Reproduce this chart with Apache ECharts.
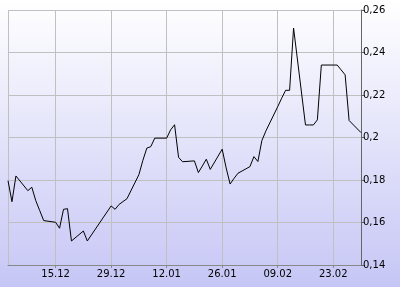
<!DOCTYPE html>
<html>
<head>
<meta charset="utf-8">
<script src="https://cdn.jsdelivr.net/npm/echarts@6/dist/echarts.min.js"></script>
<style>html,body{margin:0;padding:0;}#c{width:400px;height:287px;}</style>
</head>
<body>
<div id="c"></div>
<script>
// Trading days (dd.mm.yyyy) and closing values
const dates = [
  '03.12.2008','04.12.2008','05.12.2008','08.12.2008','09.12.2008','10.12.2008','11.12.2008','12.12.2008',
  '15.12.2008','16.12.2008','17.12.2008','18.12.2008','19.12.2008','22.12.2008','23.12.2008',
  '29.12.2008','30.12.2008','31.12.2008','02.01.2009',
  '05.01.2009','06.01.2009','07.01.2009','08.01.2009','09.01.2009',
  '12.01.2009','13.01.2009','14.01.2009','15.01.2009','16.01.2009',
  '19.01.2009','20.01.2009','21.01.2009','22.01.2009','23.01.2009',
  '26.01.2009','27.01.2009','28.01.2009','29.01.2009','30.01.2009',
  '02.02.2009','03.02.2009','04.02.2009','05.02.2009','06.02.2009',
  '09.02.2009','10.02.2009','11.02.2009','12.02.2009','13.02.2009',
  '16.02.2009','17.02.2009','18.02.2009','19.02.2009','20.02.2009',
  '23.02.2009','24.02.2009','25.02.2009','26.02.2009','27.02.2009',
  '02.03.2009'
];
const values = [
  0.1797,0.1698,0.1819,0.1750,0.1766,0.1703,0.1656,0.1609,
  0.1601,0.1573,0.1662,0.1665,0.1513,0.1560,0.1513,
  0.1678,0.1662,0.1685,0.1712,
  0.1825,0.1892,0.1950,0.1957,0.1997,
  0.1997,0.2036,0.2060,0.1907,0.1886,
  0.1890,0.1835,0.1866,0.1898,0.1850,
  0.1945,0.1857,0.1781,0.1808,0.1832,
  0.1863,0.1910,0.1887,0.1985,0.2030,
  0.2145,0.2185,0.2222,0.2222,0.2515,
  0.2059,0.2059,0.2059,0.2083,0.2341,
  0.2341,0.2341,0.2318,0.2295,0.2080,
  0.2023
];
const tickLabels = ['15.12','29.12','12.01','26.01','09.02','23.02'];
const startDate = '03.12.2008';
const endDate = '02.03.2009';
const yMin = 0.14, yMax = 0.26, yStep = 0.02;

function parseD(s){const p=s.split('.');return new Date(+p[2],+p[1]-1,+p[0]);}
function fmt(d){return String(d.getDate()).padStart(2,'0')+'.'+String(d.getMonth()+1).padStart(2,'0');}
// calendar categories
const cats = [], series = [];
const lookup = {};
dates.forEach((d,i)=>{lookup[d]=values[i];});
for(let d=parseD(startDate); d<=parseD(endDate); d=new Date(d.getFullYear(),d.getMonth(),d.getDate()+1)){
  const key = String(d.getDate()).padStart(2,'0')+'.'+String(d.getMonth()+1).padStart(2,'0')+'.'+d.getFullYear();
  cats.push(fmt(d));
  series.push(key in lookup ? lookup[key] : null);
}
const isTick = (idx,val)=> tickLabels.indexOf(cats[idx])>=0;

const chart = echarts.init(document.getElementById('c'));
chart.setOption({
  animation:false,
  backgroundColor:{type:'linear',x:0,y:0,x2:0,y2:1,colorStops:[{offset:0,color:'#ffffff'},{offset:1,color:'#c6c6f6'}]},
  grid:{left:8,right:39,top:10,bottom:22,containLabel:false},
  xAxis:{
    type:'category', data:cats, boundaryGap:false,
    axisLine:{show:true,lineStyle:{color:'#888',width:1}},
    axisTick:{show:true,interval:isTick,length:3,lineStyle:{color:'#888'}},
    axisLabel:{interval:isTick,color:'#000',fontFamily:'DejaVu Sans',fontSize:10,margin:4},
    splitLine:{show:true,interval:(i,v)=> i===0 || isTick(i,v),lineStyle:{color:'#c0c0c0',width:1}}
  },
  yAxis:{
    type:'value', position:'right', min:yMin, max:yMax, interval:yStep,
    axisLine:{show:true,lineStyle:{color:'#666',width:1}},
    axisTick:{show:true,length:4,lineStyle:{color:'#666'}},
    axisLabel:{color:'#000',fontFamily:'DejaVu Sans',fontSize:10,margin:2,
      formatter:v=>String(+v.toFixed(2)).replace('.',',')},
    splitLine:{show:true,lineStyle:{color:'#c0c0c0',width:1}}
  },
  series:[{type:'line',data:series,connectNulls:true,showSymbol:false,symbol:'none',
    lineStyle:{color:'#000',width:1},silent:true}]
});
</script>
</body>
</html>
